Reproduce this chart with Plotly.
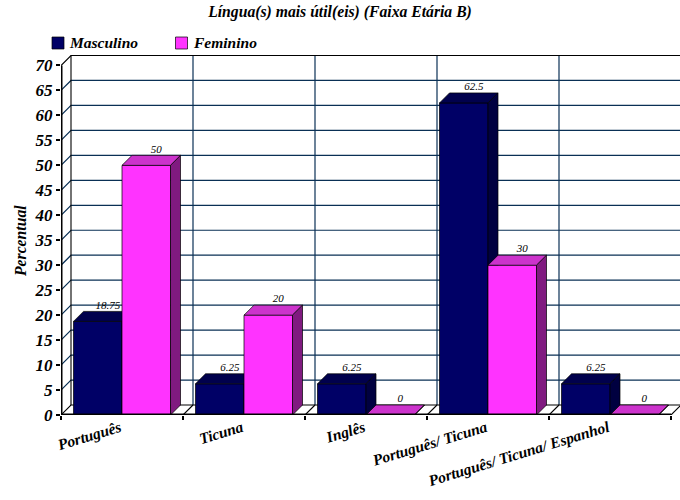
import plotly.graph_objects as go

TITLE = "Língua(s) mais útil(eis) (Faixa Etária B)"
categories = ["Português", "Ticuna", "Inglês", "Português/ Ticuna", "Português/ Ticuna/ Espanhol"]
masculino = [18.75, 6.25, 6.25, 62.5, 6.25]
feminino = [50, 20, 0, 30, 0]
y_ticks = list(range(0, 75, 5))

SERIF = "Liberation Serif"
BI = dict(family=SERIF, color="#000000", weight="bold", style="italic")
BAR_W = 0.3975
DX, DY = 10 / 122, 2.0
positions = list(range(len(categories)))
XMIN, XMAX = -0.5, -0.5 + 619 / 122
YMAX = 360 / 4.993
WALL = "#0a3055"
PLOT_L, PLOT_W, PLOT_B, PLOT_H = 61, 619, 415, 360


def px(x):
    return (x - PLOT_L) / PLOT_W


def py(y):
    return (PLOT_B - y) / PLOT_H


def bar_faces(values, offset):
    top_x, top_y, side_x, side_y = [], [], [], []
    for p, v in zip(positions, values):
        a, b = p + offset, p + offset + BAR_W
        top_x += [a, b, b + DX, a + DX, a, None]
        top_y += [v, v, v + DY, v + DY, v, None]
        side_x += [b, b + DX, b + DX, b, b, None]
        side_y += [0, DY, v + DY, v, 0, None]
    return top_x, top_y, side_x, side_y


def poly(x, y, fill, z):
    return go.Scatter(x=x, y=y, mode="lines", fill="toself", fillcolor=fill,
                      line=dict(color="#000000", width=0.7), hoverinfo="skip",
                      showlegend=False, zorder=z)


fig = go.Figure()

# back wall and floor
gx, gy = [], []
for v in y_ticks[1:-1]:
    gx += [XMIN, XMIN + DX, XMAX, None]
    gy += [v, v + DY, v + DY, None]
bounds = [p - 0.5 for p in positions] + [positions[-1] + 0.5]
for b in bounds[1:-1]:
    gx += [b + DX, b + DX, None]
    gy += [DY, y_ticks[-1] + DY, None]
fig.add_trace(go.Scatter(x=gx, y=gy, mode="lines", line=dict(color=WALL, width=1.2),
                         hoverinfo="skip", showlegend=False, zorder=0))
bx, by = [XMIN + DX, XMIN + DX, None, XMIN, XMIN + DX, XMAX, None, XMIN, XMIN + DX, XMAX, None], \
         [DY, y_ticks[-1] + DY, None, 0, DY, DY, None, y_ticks[-1], y_ticks[-1] + DY, y_ticks[-1] + DY, None]
for b in bounds[1:]:
    bx += [b, b + DX, None]
    by += [0, DY, None]
fig.add_trace(go.Scatter(x=bx, y=by, mode="lines", line=dict(color="#000000", width=1.1),
                         hoverinfo="skip", showlegend=False, zorder=0))

# bars: front faces plus computed 3D faces
series = [("Masculino", masculino, -BAR_W, "#000066", "#00004d", "#000040", 1),
          ("Feminino", feminino, 0.0, "#ff33ff", "#cc33cc", "#801a80", 3)]
for name, values, off, front, top, side, z in series:
    fig.add_trace(go.Bar(x=positions, y=values, name=name, width=BAR_W, offset=off,
                         marker=dict(color=front, line=dict(color="#000000", width=0.7)),
                         showlegend=False, zorder=z))
    tx, ty, sx, sy = bar_faces(values, off)
    fig.add_trace(poly(tx, ty, top, z + 1))
    fig.add_trace(poly(sx, sy, side, z + 1))

# value labels
lx, ly, lt = [], [], []
for name, values, off, *_ in series:
    for p, v in zip(positions, values):
        lx.append(p + off + BAR_W / 2 + DX)
        ly.append(v + DY)
        lt.append(f"{v:g}")
fig.add_trace(go.Scatter(x=lx, y=ly, text=lt, mode="text", textposition="top center",
                         textfont=dict(family=SERIF, size=11, color="#000000", style="italic"),
                         hoverinfo="skip", showlegend=False, cliponaxis=False, zorder=6))

# thick front axes
fig.add_trace(go.Scatter(x=[XMIN, XMIN, None, XMIN, bounds[-1]], y=[y_ticks[-1], 0, None, 0, 0],
                         mode="lines", line=dict(color="#000000", width=3), hoverinfo="skip",
                         showlegend=False, cliponaxis=False, zorder=7))

# legend swatches and names
legend_shapes, legend_notes = [], []
for (name, _, _, front, *_), left in zip(series, (52, 175.5)):
    legend_shapes.append(dict(type="rect", xref="paper", yref="paper",
                              x0=px(left), x1=px(left + 12), y0=py(49), y1=py(37),
                              fillcolor=front, line=dict(color="#000000", width=0.7)))
    legend_notes.append(dict(text=name, xref="paper", yref="paper", x=px(left + 15), y=py(42.5),
                             xanchor="left", yanchor="middle", showarrow=False,
                             font=dict(size=15.5, **BI)))

fig.update_layout(
    width=680, height=500, paper_bgcolor="#ffffff", plot_bgcolor="#ffffff",
    margin=dict(l=61, r=0, t=55, b=85, autoexpand=False),
    barmode="overlay", showlegend=False,
    title=dict(text=TITLE, x=0.5, xanchor="center", y=0.976, yanchor="middle",
               font=dict(size=15.7, **BI)),
    xaxis=dict(range=[XMIN, XMAX], tickmode="array", tickvals=positions, ticktext=categories,
               tickangle=-17, ticks="", showgrid=False, zeroline=False, showline=False,
               tickfont=dict(size=15.5, **BI), ticklabelshift=-2,
               minor=dict(tickmode="array", tickvals=bounds, ticks="outside", ticklen=4,
                          tickwidth=1.5, tickcolor="#000000", showgrid=False)),
    yaxis=dict(range=[0, YMAX], tickmode="array", tickvals=y_ticks, ticks="outside", ticklen=4,
               tickwidth=1.5, tickcolor="#000000", showgrid=False, zeroline=False, showline=False,
               tickfont=dict(size=17, **BI)),
    shapes=legend_shapes,
    annotations=legend_notes + [dict(text="Percentual", textangle=-90, xref="paper", yref="paper",
                                     x=px(21), y=py(241), xanchor="center", yanchor="middle",
                                     showarrow=False, font=dict(size=15.7, **BI))],
)
fig.write_html("out.html", config={"displayModeBar": False},
               post_script="document.body.style.margin='0';")
